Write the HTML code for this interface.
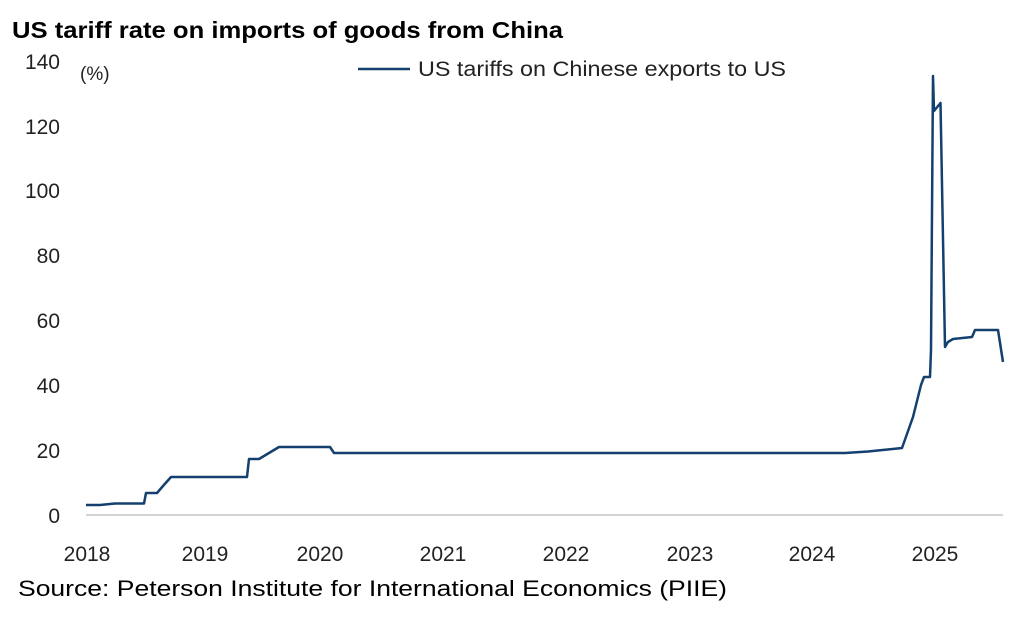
<!DOCTYPE html>
<html><head><style>
body{margin:0;background:#fff;width:1026px;height:618px;overflow:hidden;font-family:"Liberation Sans",sans-serif}
</style></head><body>
<svg width="1026" height="618" xmlns="http://www.w3.org/2000/svg" font-family="Liberation Sans, sans-serif">
<text x="12" y="38" font-size="23" font-weight="bold" fill="#000" textLength="551" lengthAdjust="spacingAndGlyphs">US tariff rate on imports of goods from China</text>
<g font-size="21" fill="#222" text-anchor="end">
<text x="60" y="523">0</text>
<text x="60" y="458">20</text>
<text x="60" y="393">40</text>
<text x="60" y="328">60</text>
<text x="60" y="263">80</text>
<text x="60" y="198">100</text>
<text x="60" y="134">120</text>
<text x="60" y="69">140</text>
</g>
<text x="80" y="80" font-size="19" fill="#222">(%)</text>
<line x1="358" y1="69" x2="410" y2="69" stroke="#13406f" stroke-width="2.5"/>
<text x="418" y="76" font-size="21" fill="#222" textLength="368" lengthAdjust="spacingAndGlyphs">US tariffs on Chinese exports to US</text>
<line x1="86" y1="515" x2="1003" y2="515" stroke="#d4d4d4" stroke-width="2"/>
<g font-size="21" fill="#222" text-anchor="middle">
<text x="87" y="561">2018</text>
<text x="205" y="561">2019</text>
<text x="320" y="561">2020</text>
<text x="443" y="561">2021</text>
<text x="566" y="561">2022</text>
<text x="690" y="561">2023</text>
<text x="812" y="561">2024</text>
<text x="935" y="561">2025</text>
</g>
<polyline fill="none" stroke="#13406f" stroke-width="2.5" stroke-linejoin="round" points="86,505 100,505 115,503.5 144,503.5 146,493 157,493 163,486 171,477 247,477 249,459 259,459 279,447 330,447 334,453 845,453 868,451.5 902,448 913,417 921,385 924,377 930,377 931,350 933,76 934,111 940.5,103 945,347 948,342 953,339 972,337 975,330 998,330 1003,362"/>
<text x="18" y="596" font-size="22" fill="#000" textLength="709" lengthAdjust="spacingAndGlyphs">Source: Peterson Institute for International Economics (PIIE)</text>
</svg>
</body></html>
